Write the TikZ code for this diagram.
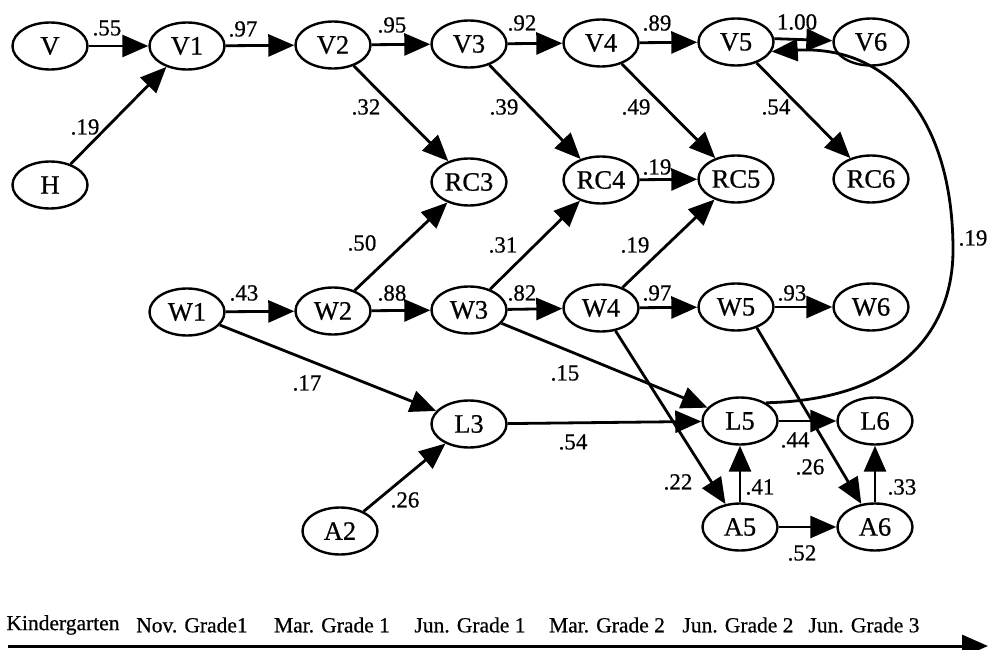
\documentclass[tikz,border=0pt]{standalone}
\usepackage{fontspec}
\setmainfont{Liberation Serif}[FakeBold=0.6]
\usetikzlibrary{arrows.meta,shapes.geometric}
\begin{document}
\begin{tikzpicture}[x=1pt,y=-1pt,
  var/.style={ellipse, draw, line width=2.4pt, minimum width=75pt, minimum height=47pt, inner sep=0pt, font=\fontsize{26.5}{28}\selectfont},
  coef/.style={font=\fontsize{23}{25}\selectfont, inner sep=0pt},
  arr/.style={line width=2.8pt, -{Triangle[length=26pt,width=22pt]}},
  tick/.style={font=\fontsize{21.5}{23}\selectfont, inner sep=0pt}]
\useasboundingbox (0,0) rectangle (988,650);
% nodes
\node[var] (V)   at (50,46)  {V};
\node[var] (V1)  at (187,46) {V1};
\node[var] (V2)  at (333,45) {V2};
\node[var] (V3)  at (469,44) {V3};
\node[var] (V4)  at (601,43) {V4};
\node[var] (V5)  at (736,42) {V5};
\node[var] (V6)  at (871,42) {V6};
\node[var] (H)   at (50,185) {H};
\node[var] (RC3) at (469,182) {RC3};
\node[var] (RC4) at (601,180) {RC4};
\node[var] (RC5) at (736,179) {RC5};
\node[var] (RC6) at (871,179) {RC6};
\node[var] (W1)  at (187,312) {W1};
\node[var] (W2)  at (333,311) {W2};
\node[var] (W3)  at (469,310) {W3};
\node[var] (W4)  at (601,308) {W4};
\node[var] (W5)  at (736,307) {W5};
\node[var] (W6)  at (871,307) {W6};
\node[var] (L3)  at (469,424) {L3};
\node[var] (L5)  at (740,421) {L5};
\node[var] (L6)  at (875,421) {L6};
\node[var] (A2)  at (340,531) {A2};
\node[var] (A5)  at (740,527) {A5};
\node[var] (A6)  at (875,527) {A6};
% edges
\draw[arr] (V) -- (V1);
\draw[arr] (H) -- (V1);
\draw[arr] (V1) -- (V2);
\draw[arr] (V2) -- (V3);
\draw[arr] (V2) -- (RC3);
\draw[arr] (V3) -- (V4);
\draw[arr] (V3) -- (RC4);
\draw[arr] (V4) -- (V5);
\draw[arr] (V4) -- (RC5);
\draw[arr] (V5.5) -- (V6);
\draw[arr] (V5) -- (RC6);
\draw[arr] (RC4) -- (RC5);
\draw[arr] (W1) -- (W2);
\draw[arr] (W1) -- (L3);
\draw[arr] (W2) -- (RC3);
\draw[arr] (W2) -- (W3);
\draw[arr] (W3) -- (RC4);
\draw[arr] (W3) -- (W4);
\draw[arr] (W3) -- (L5);
\draw[arr] (W4) -- (RC5);
\draw[arr] (W4) -- (W5);
\draw[arr] (W4) -- (A5);
\draw[arr] (W5) -- (W6);
\draw[arr] (W5.-45) -- (A6);
\draw[arr] (L3) -- (L5);
\draw[arr] (L5) -- (L6);
\draw[arr] (A2) -- (L3);
\draw[arr] (A5) -- (L5);
\draw[arr] (A5) -- (A6);
\draw[arr] (A6) -- (L6);
\coordinate (cm) at (953,250);
\draw[arr] (L5.35) .. controls (900,400) and (953,330) .. (cm)
  .. controls (953,120) and (890,45) .. (V5.-15);
% coefficients
\node[coef] (c1)  at (107,28) {.55};
\node[coef] (c2)  at (243,29) {.97};
\node[coef] (c3)  at (392,25) {.95};
\node[coef] (c4)  at (522,23) {.92};
\node[coef] (c5)  at (657,23) {.89};
\node[coef] (c6)  at (797,22) {1.00};
\node[coef] (c7)  at (85,127) {.19};
\node[coef] (c8)  at (366,107) {.32};
\node[coef] (c9)  at (504,107) {.39};
\node[coef] (c10) at (636,107) {.49};
\node[coef] (c11) at (776,107) {.54};
\node[coef] (c12) at (657,167) {.19};
\node[coef] (c13) at (973,238) {.19};
\node[coef] (c14) at (362,243) {.50};
\node[coef] (c15) at (503,245) {.31};
\node[coef] (c16) at (635,245) {.19};
\node[coef] (c17) at (244,293) {.43};
\node[coef] (c18) at (392,293) {.88};
\node[coef] (c19) at (522,293) {.82};
\node[coef] (c20) at (657,293) {.97};
\node[coef] (c21) at (792,293) {.93};
\node[coef] (c22) at (307,383) {.17};
\node[coef] (c23) at (565,373) {.15};
\node[coef] (c24) at (573,442) {.54};
\node[coef] (c25) at (795,440) {.44};
\node[coef] (c26) at (810,467) {.26};
\node[coef] (c27) at (678,482) {.22};
\node[coef] (c28) at (760,487) {.41};
\node[coef] (c29) at (902,487) {.33};
\node[coef] (c30) at (405,500) {.26};
\node[coef] (c31) at (802,553) {.52};
% time axis
\node[tick] (t1) at (63,625) {Kindergarten};
\node[tick] (t2) at (192,625) {Nov. Grade1};
\node[tick] (t3) at (332,625) {Mar. Grade 1};
\node[tick] (t4) at (470,625) {Jun. Grade 1};
\node[tick] (t5) at (607,625) {Mar. Grade 2};
\node[tick] (t6) at (738,625) {Jun. Grade 2};
\node[tick] (t7) at (864,625) {Jun. Grade 3};
\coordinate (ax0) at (8,646);
\coordinate (ax1) at (988,646);
\draw[line width=3pt, -{Triangle[length=26pt,width=22pt]}] (ax0) -- (ax1);
\end{tikzpicture}
\end{document}
